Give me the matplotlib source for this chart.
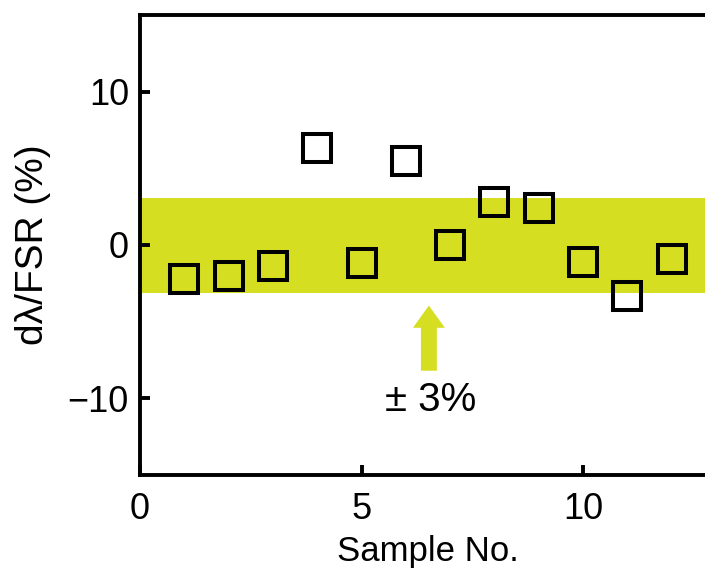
import numpy as np
import matplotlib.pyplot as plt

plt.rcParams['font.family'] = ['Liberation Sans', 'DejaVu Sans']

# resonance shift per sample, in % of FSR
sample_no = [1, 2, 3, 4, 5, 6, 7, 8, 9, 10, 11, 12]
shift_pct = [-2.2, -2.0, -1.4, 6.3, -1.2, 5.5, 0.0, 2.8, 2.4, -1.1, -3.3, -0.9]

# tolerance band
tol = 3.0
band_color = '#d6de22'

fig = plt.figure(figsize=(7.05, 5.72), dpi=100)
ax = fig.add_axes([0.1986, 0.1696, 0.817, 0.8042])

ax.axhspan(-tol - 0.15, tol + 0.05, color=band_color, lw=0, zorder=0)
ax.plot(sample_no, shift_pct, 's', ms=20, mfc='none', mec='black', mew=2.9,
        zorder=3, clip_on=False)

# arrow pointing at the band + label
ax.arrow(6.52, -8.2, 0, 4.25, width=0.36, head_width=0.72, head_length=1.45,
         length_includes_head=True, color=band_color, lw=0, zorder=2)
ax.text(6.55, -10.1, '± 3%', fontsize=29, ha='center', va='center')

ax.set_xlim(0, 13)
ax.set_ylim(-15, 15)
ax.set_xticks([0, 5, 10])
ax.set_yticks([-10, 0, 10])
ax.tick_params(direction='in', length=7, width=2.8, labelsize=26, pad=8)
ax.tick_params(axis='x', pad=12)
for side in ['left', 'bottom', 'top']:
    ax.spines[side].set_linewidth(2.8)
ax.spines['right'].set_visible(False)

ax.set_xlabel('Sample No.', fontsize=25, labelpad=6)
ax.set_ylabel('dλ/FSR (%)', fontsize=28, labelpad=12)

fig.savefig('out.png', dpi=100)
